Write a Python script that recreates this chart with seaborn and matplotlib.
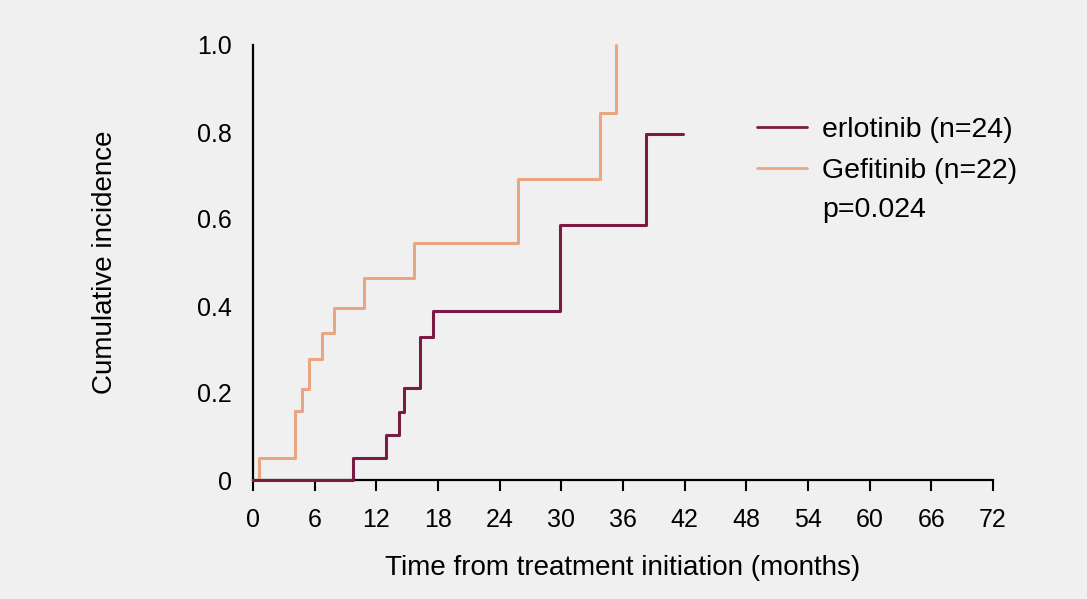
import matplotlib
matplotlib.use("Agg")
import matplotlib.pyplot as plt
import seaborn as sns
import pandas as pd

# cumulative incidence (months, fraction)
erl_time = [0, 9.7, 12.9, 14.2, 14.7, 16.2, 17.55, 29.9, 38.2, 41.8]
erl_inc = [0, 0.05, 0.103, 0.156, 0.211, 0.328, 0.388, 0.586, 0.795, 0.795]
gef_time = [0, 0.6, 4.1, 4.8, 5.4, 6.75, 7.9, 10.8, 15.7, 25.8, 33.8, 35.3]
gef_inc = [0, 0.05, 0.159, 0.21, 0.278, 0.337, 0.395, 0.464, 0.545, 0.692, 0.843, 1.0]
x_ticks = list(range(0, 73, 6))
y_ticks = [0, 0.2, 0.4, 0.6, 0.8, 1.0]
y_labels = ["0", "0.2", "0.4", "0.6", "0.8", "1.0"]

erl = pd.DataFrame({"t": erl_time, "ci": erl_inc})
gef = pd.DataFrame({"t": gef_time, "ci": gef_inc})

sns.set_style("ticks")
plt.rcParams['font.family'] = ['Liberation Sans', 'DejaVu Sans']
plt.rcParams['text.color'] = 'black'
bg = "#f0f0f0"

fig = plt.figure(figsize=(10.87, 5.99), dpi=100, facecolor=bg)
ax = fig.add_axes([253/1087, 1-480/599, 740/1087, 435/599])
ax.set_facecolor(bg)

sns.lineplot(data=erl, x="t", y="ci", ax=ax, color="#7b1a45", lw=2.2,
             drawstyle="steps-post", estimator=None, label="erlotinib (n=24)", clip_on=False, zorder=4)
sns.lineplot(data=gef, x="t", y="ci", ax=ax, color="#e8a683", lw=2.2,
             drawstyle="steps-post", estimator=None, label="Gefitinib (n=22)", clip_on=False, zorder=3)

ax.set_xlim(0, 72)
ax.set_ylim(0, 1.0)
ax.set_xticks(x_ticks)
ax.set_yticks(y_ticks)
ax.set_yticklabels(y_labels)
ax.tick_params(axis="x", labelsize=18, length=8, width=1.5, color="black", labelcolor="black", pad=12)
ax.tick_params(axis="y", labelsize=18, length=0, labelcolor="black", pad=15)
for s in ["top", "right"]:
    ax.spines[s].set_visible(False)
for s in ["left", "bottom"]:
    ax.spines[s].set_linewidth(1.6)
    ax.spines[s].set_color("black")

ax.set_xlabel("Time from treatment initiation (months)", fontsize=20, labelpad=17, color="black")
ax.set_ylabel("Cumulative incidence", fontsize=20, labelpad=57, color="black")

leg = ax.legend(loc="upper left", bbox_to_anchor=(757/1087, 1-117/599), bbox_transform=fig.transFigure,
                frameon=False, fontsize=20.5, handlelength=1.75, labelspacing=0.54,
                handletextpad=0.55, borderpad=0, borderaxespad=0)
for line in leg.get_lines():
    line.set_linewidth(2)
fig.text(822/1087, 1-210/599, "p=0.024", fontsize=20.5, va="center")

fig.savefig("out.png", dpi=100, facecolor=bg)
